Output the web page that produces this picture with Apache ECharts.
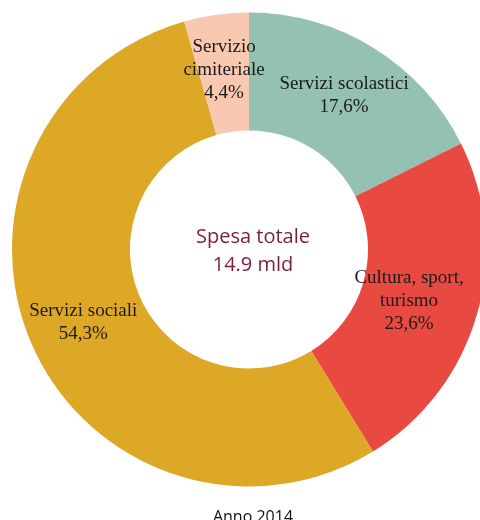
<!DOCTYPE html>
<html>
<head>
<meta charset="utf-8">
<script src="https://cdn.jsdelivr.net/npm/echarts@6/dist/echarts.min.js"></script>
<style>html,body{margin:0;padding:0;background:#fff}#c{width:480px;height:520px}</style>
</head>
<body>
<div id="c"></div>
<script>
const categories = ['Servizi scolastici', 'Cultura, sport,\nturismo', 'Servizi sociali', 'Servizio\ncimiteriale'];
const values = [17.6, 23.6, 54.3, 4.4];
const colors = ['#94C1B2', '#E84A42', '#DEA827', '#F8C8B1'];
const centerLines = ['Spesa totale', '14.9 mld'];
const footer = 'Anno 2014';

const chart = echarts.init(document.getElementById('c'), null, {renderer: 'canvas'});
chart.setOption({
  animation: false,
  title: [
    {text: centerLines.join('\n'), left: 248, top: 218, textAlign: 'center',
     textStyle: {fontFamily: 'Open Sans', fontSize: 20, fontWeight: 'normal', color: '#7A1E3C', lineHeight: 28}},
    {text: footer, left: 248, top: 502, textAlign: 'center',
     textStyle: {fontFamily: 'Open Sans', fontSize: 16, fontWeight: 'normal', color: '#111', lineHeight: 20}}
  ],
  series: [{
    type: 'pie',
    center: [249, 249.5],
    radius: [119, 237],
    startAngle: 90,
    clockwise: true,
    avoidLabelOverlap: false,
    itemStyle: {borderWidth: 0},
    label: {
      show: true, position: 'inside',
      fontFamily: 'Liberation Serif', fontSize: 19, color: '#1a1a1a', lineHeight: 23,
      formatter: p => p.name + '\n' + p.value.toFixed(1).replace('.', ',') + '%'
    },
    labelLine: {show: false},
    emphasis: {disabled: true},
    data: categories.map((n, i) => ({
      name: n, value: values[i], itemStyle: {color: colors[i]},
      label: i === 1 ? {offset: [-14, 2]} : {}
    }))
  }]
});
</script>
</body>
</html>
